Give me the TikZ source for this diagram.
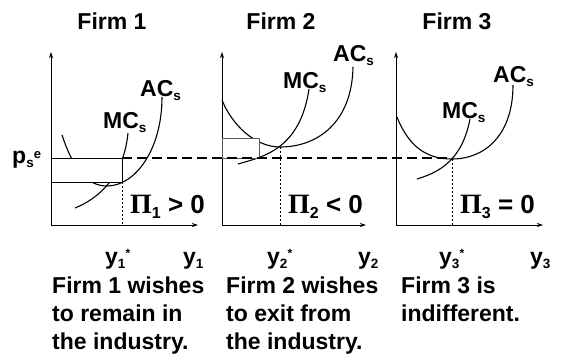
\documentclass[tikz,border=0pt]{standalone}
\usepackage{fontspec}
\setmainfont{Liberation Sans}
\newfontfamily\piserif{Liberation Serif}
\usetikzlibrary{arrows.meta}
\newcommand\lsb[1]{\raisebox{-4.5pt}{\fontsize{13.5}{13.5}\selectfont #1}}
\newcommand\lsp[1]{\raisebox{5pt}{\fontsize{13}{13}\selectfont #1}}
\newcommand\lstar{\raisebox{7pt}{\fontsize{12}{12}\selectfont *}}
\newcommand\bigpi[1]{{\piserif\fontsize{28}{28}\selectfont\bfseries \symbol{"03A0}}{\raisebox{-5pt}{\fontsize{16}{16}\selectfont #1}}}
\begin{document}
\begin{tikzpicture}[x=1pt,y=-1pt,
  font=\fontsize{23}{28}\selectfont\bfseries,
  axis/.style={line width=0.8pt,-{Stealth[length=6pt,width=4pt]}},
  curve/.style={line width=1.1pt},
  lbl/.style={inner sep=0pt,anchor=base west},
  bigl/.style={inner sep=0pt,anchor=base west,font=\fontsize{26}{26}\selectfont\bfseries},
  rect/.style={fill=white,draw=black,line width=0.9pt},
  rectg/.style={fill=white,draw=black!65,line width=1pt},
  pline/.style={line width=1.1pt,dash pattern=on 10pt off 5pt},
  qline/.style={line width=0.7pt,dash pattern=on 2pt off 2pt}]
\useasboundingbox (0,0) rectangle (562,356);

% axes coordinates
\coordinate (o1) at (51,225); \coordinate (t1) at (51,52); \coordinate (r1) at (198,225);
\coordinate (o2) at (222,225); \coordinate (t2) at (222,52); \coordinate (r2) at (366,225);
\coordinate (o3) at (396,225); \coordinate (t3) at (396,52); \coordinate (r3) at (543,225);
\draw[axis] (o1) -- (t1); \draw[axis] (o1) -- (r1);
\draw[axis] (o2) -- (t2); \draw[axis] (o2) -- (r2);
\draw[axis] (o3) -- (t3); \draw[axis] (o3) -- (r3);

% ---------- Firm 1 ----------
\coordinate (ac1a) at (62,135); \coordinate (ac1m) at (107,186); \coordinate (ac1b) at (162,97);
\draw[curve] (ac1a) .. controls (72,165) and (85,186) .. (ac1m)
                    .. controls (135,186) and (162,150) .. (ac1b);
\coordinate (mc1a) at (75,208); \coordinate (mc1b) at (128,133);
\draw[curve] (mc1a) .. controls (100,198) and (124,175) .. (mc1b);
\coordinate (q1) at (122,182); \coordinate (q1b) at (122,225);
\draw[rect] (51,158) rectangle (q1);
\draw[qline] (q1) -- (q1b);

% ---------- Firm 2 ----------
\coordinate (ac2a) at (222,100); \coordinate (ac2m) at (280,147); \coordinate (ac2b) at (353,67);
\draw[curve] (ac2a) .. controls (232,125) and (255,147) .. (ac2m)
                    .. controls (318,147) and (352,122) .. (ac2b);
\coordinate (mc2a) at (238,164); \coordinate (mc2b) at (309,89);
\draw[curve] (mc2a) .. controls (262,157) and (300,150) .. (mc2b);
\coordinate (r2a) at (222,138); \coordinate (r2b) at (259,158);
\draw[rectg] (r2a) rectangle (r2b);
\coordinate (q2b) at (280,225);
\draw[qline] (ac2m) -- (q2b);

% ---------- Firm 3 ----------
\coordinate (ac3a) at (397,117); \coordinate (ac3m) at (452,159); \coordinate (ac3b) at (513,85);
\draw[curve] (ac3a) .. controls (410,150) and (430,159) .. (ac3m)
                    .. controls (485,159) and (513,135) .. (ac3b);
\coordinate (mc3a) at (417,179); \coordinate (mc3b) at (470,119);
\draw[curve] (mc3a) .. controls (440,172) and (462,160) .. (mc3b);
\coordinate (q3b) at (452,225);
\draw[qline] (ac3m) -- (q3b);

% price line
\coordinate (pe1) at (122,158); \coordinate (pe3) at (452,158);
\draw[pline] (pe1) -- (pe3);

% ---------- labels ----------
\node[inner sep=0pt,anchor=base] (f1) at (112,29.4) {Firm 1};
\node[inner sep=0pt,anchor=base] (f2) at (281,29.4) {Firm 2};
\node[inner sep=0pt,anchor=base] (f3) at (457,29.4) {Firm 3};

\node[lbl] (pe) at (12,163) {p\lsb{s}\lsp{e}};

\node[lbl] (lac1) at (140,96) {AC\lsb{s}};
\node[lbl] (lmc1) at (103,128) {MC\lsb{s}};
\node[lbl] (lac2) at (333,61) {AC\lsb{s}};
\node[lbl] (lmc2) at (283,88) {MC\lsb{s}};
\node[lbl] (lac3) at (493,82) {AC\lsb{s}};
\node[lbl] (lmc3) at (442,118) {MC\lsb{s}};

\node[bigl] (pi1) at (130,213) {\bigpi{1} > 0};
\node[bigl] (pi2) at (288,213) {\bigpi{2} < 0};
\node[bigl] (pi3) at (460,213) {\bigpi{3} = 0};

\node[lbl] (y1s) at (105,264) {y\lsb{1}\lstar};
\node[lbl] (y1) at (183,264) {y\lsb{1}};
\node[lbl] (y2s) at (267,264) {y\lsb{2}\lstar};
\node[lbl] (y2) at (358,264) {y\lsb{2}};
\node[lbl] (y3s) at (439,264) {y\lsb{3}\lstar};
\node[lbl] (y3) at (530,264) {y\lsb{3}};

\node[lbl] (a1) at (52,293) {Firm 1 wishes};
\node[lbl] (a2) at (52,321) {to remain in};
\node[lbl] (a3) at (52,349) {the industry.};
\node[lbl] (b1) at (226,293) {Firm 2 wishes};
\node[lbl] (b2) at (226,321) {to exit from};
\node[lbl] (b3) at (226,349) {the industry.};
\node[lbl] (c1) at (401,293) {Firm 3 is};
\node[lbl] (c2) at (401,321) {indifferent.};
\end{tikzpicture}
\end{document}
